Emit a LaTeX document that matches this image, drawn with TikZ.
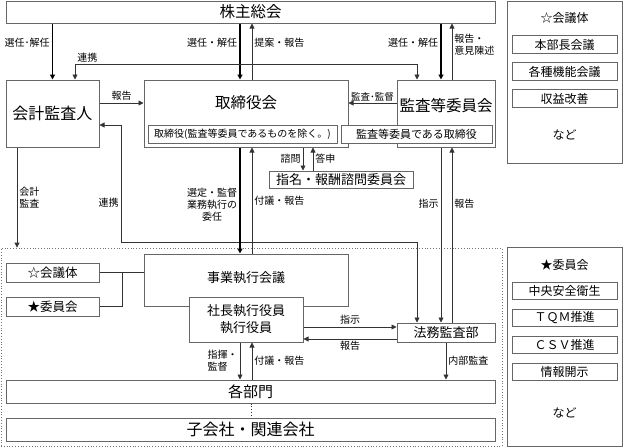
\documentclass[tikz,border=0pt]{standalone}
\usepackage{fontspec}
\setmainfont{Noto Sans CJK JP}
\usepackage{tikz}
\usetikzlibrary{arrows.meta,positioning}

\begin{document}
\begin{tikzpicture}[
      x = 1pt, y = -1pt, % pixel grid, y runs down
      > = {Triangle[length=5pt,width=5pt]}, % arrow head style
      link/.style = {draw = black!80, line width = 0.8pt}, % thin connector
      heavy/.style = {draw = black, line width = 1.7pt}, % thick connector
      lbl/.style = {font = \fontsize{10}{12}\selectfont, inner sep = 2pt},
      ]

      \tikzset{box/.style={
      draw = black!60,
      line width = 1pt,
      fill = white,
      inner sep = 0pt
      }}
      \tikzset{sbox/.style={
      box,
      minimum width = 105,
      minimum height = 17.5,
      font = \fontsize{12}{14}\selectfont
      }}

      \useasboundingbox (0,0) rectangle (624,447);

      % executive side
      \node[draw = black!55, dotted, line width = 0.8pt, inner sep = 0pt,
            minimum width = 501, minimum height = 198] (grp) at (251.5,347) {};

      % side panels
      \node[box, minimum width = 115, minimum height = 162] (panA) at (564.5,82) {};
      \node[font = \fontsize{12}{14}\selectfont] (panAt) at (564.5,18) {☆会議体};
      \node[sbox] (hq) at (564.5,44.5) {本部長会議};
      \node[sbox, below=8.5pt of hq] (func) {各種機能会議};
      \node[sbox, below=8.5pt of func] (prof) {収益改善};
      \node[font = \fontsize{12}{14}\selectfont] (panAe) at (564.5,135) {など};

      \node[box, minimum width = 115, minimum height = 199] (panB) at (564.5,346.5) {};
      \node[font = \fontsize{12}{14}\selectfont] (panBt) at (564.5,265) {★委員会};
      \node[sbox] (safe) at (564.5,291) {中央安全衛生};
      \node[sbox, below=8.5pt of safe] (tqm) {ＴＱＭ推進};
      \node[sbox, below=8.5pt of tqm] (csv) {ＣＳＶ推進};
      \node[sbox, below=8.5pt of csv] (info) {情報開示};
      \node[font = \fontsize{12}{14}\selectfont] (panBe) at (564.5,413) {など};

      % governance boxes
      \node[box, minimum width = 489, minimum height = 22,
            font = \fontsize{15.5}{18}\selectfont] (kabu) at (250.5,12) {株主総会};
      \node[box, minimum width = 93, minimum height = 67,
            font = \fontsize{16}{18}\selectfont] (kaikei) at (52.5,113.5) {会計監査人};
      \node[box, minimum width = 204, minimum height = 67] (tori) at (246,113.5) {};
      \node[font = \fontsize{15.5}{18}\selectfont, below=12pt of tori.north] (torit) {取締役会};
      \node[box, minimum width = 189, minimum height = 18,
            font = \fontsize{10}{12}\selectfont] (tori2) at (242.5,134) {取締役(監査等委員であるものを除く。)};
      \node[box, minimum width = 98, minimum height = 67] (kansa) at (446,113.5) {};
      \node[font = \fontsize{15.5}{18}\selectfont, below=15pt of kansa.north] (kansat) {監査等委員会};
      \node[box, minimum width = 151, minimum height = 18,
            font = \fontsize{11}{13}\selectfont] (kansa2) at (416.5,134) {監査等委員である取締役};
      \node[box, minimum width = 144, minimum height = 17,
            font = \fontsize{13}{15}\selectfont] (shimei) at (341,179.5) {指名・報酬諮問委員会};

      % execution boxes
      \node[box, minimum width = 93, minimum height = 19,
            font = \fontsize{12.5}{14}\selectfont] (kaigi) at (52.5,272.5) {☆会議体};
      \node[box, minimum width = 93, minimum height = 19,
            font = \fontsize{12.5}{14}\selectfont] (iin) at (52.5,306.5) {★委員会};
      \node[box, minimum width = 204, minimum height = 52] (jigyo) at (246,280) {};
      \node[font = \fontsize{13}{15}\selectfont, below=15pt of jigyo.north] (jigyot) {事業執行会議};
      \node[box, minimum width = 114, minimum height = 45, align = center,
            font = \fontsize{13}{17}\selectfont] (shacho) at (246,319.5) {社長執行役員\\執行役員};
      \node[box, minimum width = 98, minimum height = 19,
            font = \fontsize{13}{15}\selectfont] (homu) at (446,332.5) {法務監査部};
      \node[box, minimum width = 489, minimum height = 23,
            font = \fontsize{15}{18}\selectfont] (kakubu) at (250.5,391.5) {各部門};
      \node[box, minimum width = 489, minimum height = 23,
            font = \fontsize{16}{18}\selectfont] (ko) at (250.5,429.5) {子会社・関連会社};

      % shareholders
      \draw[heavy, ->] (kabu.south -| kaikei) -- (kaikei)
            node[lbl, pos=0.35, left] {選任･解任};
      \draw[heavy, ->] (kabu.south -| 240,0) -- (tori.north -| 240,0)
            node[lbl, pos=0.35, left] {選任・解任};
      \draw[link, ->] (tori.north -| 252,0) -- (kabu.south -| 252,0)
            node[lbl, pos=0.65, right] {提案・報告};
      \draw[heavy, ->] (kabu.south -| 441,0) -- (kansa.north -| 441,0)
            node[lbl, pos=0.35, left] {選任・解任};
      \draw[link, ->] (kansa.north -| 452,0) -- (kabu.south -| 452,0)
            node[lbl, pos=0.62, right, align=left] {報告・\\意見陳述};

      % auditor
      \draw[link, <->] (kaikei.north -| 75,0) -- ++(0,-15)
            node[lbl, above right] {連携} -| (kansa.north -| 417,0);
      \draw[link, ->] (kaikei.east |- 0,103) -- (tori.west |- 0,103)
            node[lbl, midway, above] {報告};
      \draw[link, <->] (kaikei.east |- 0,125) -| node[lbl, pos=0.83, left] {連携} (121,242)
            -| (homu.north -| 417,0);
      \draw[link, ->] (kaikei.south -| 17,0) -- (grp.north -| 17,0)
            node[lbl, midway, right, align=left] {会計\\監査};

      % board
      \draw[link, ->] (kansa.west |- 0,103) -- (tori.east |- 0,103)
            node[lbl, midway, above, inner sep=1pt, font=\fontsize{9.5}{11}\selectfont] {監査･監督};
      \draw[link, ->] (tori.south -| 303,0) -- (shimei.north -| 303,0)
            node[lbl, midway, left] {諮問};
      \draw[link, ->] (shimei.north -| 313,0) -- (tori.south -| 313,0)
            node[lbl, midway, right] {答申};
      \draw[heavy, ->] (tori.south -| 240,0) -- (jigyo.north -| 240,0)
            node[lbl, pos=0.54, left, align=center] {選定・監督\\業務執行の\\委任};
      \draw[link, ->] (jigyo.north -| 252,0) -- (tori.south -| 252,0)
            node[lbl, midway, right] {付議・報告};
      \draw[link, ->] (kansa.south -| 441,0) -- (homu.north -| 441,0)
            node[lbl, pos=0.32, left] {指示};
      \draw[link, ->] (homu.north -| 452,0) -- (kansa.south -| 452,0)
            node[lbl, pos=0.68, right] {報告};

      % execution
      \draw[link] (kaigi.east) -- (jigyo.west |- kaigi.east);
      \draw[link] (iin.east) -| (kaigi.east -| 122,0);
      \draw[link, ->] (shacho.east |- 0,327) -- (homu.west |- 0,327)
            node[lbl, midway, above] {指示};
      \draw[link, ->] (homu.west |- 0,339) -- (shacho.east |- 0,339)
            node[lbl, midway, below] {報告};
      \draw[link, ->] (homu.south -| 446,0) -- (kakubu.north -| 446,0)
            node[lbl, midway, right] {内部監査};
      \draw[link, ->] (shacho.south -| 240,0) -- (kakubu.north -| 240,0)
            node[lbl, midway, left, align=left] {指揮・\\監督};
      \draw[link, ->] (kakubu.north -| 252,0) -- (shacho.south -| 252,0)
            node[lbl, midway, right] {付議・報告};
      \draw[link, dotted] (kakubu.south -| 251,0) -- (ko.north -| 251,0);

    \end{tikzpicture}
\end{document}
